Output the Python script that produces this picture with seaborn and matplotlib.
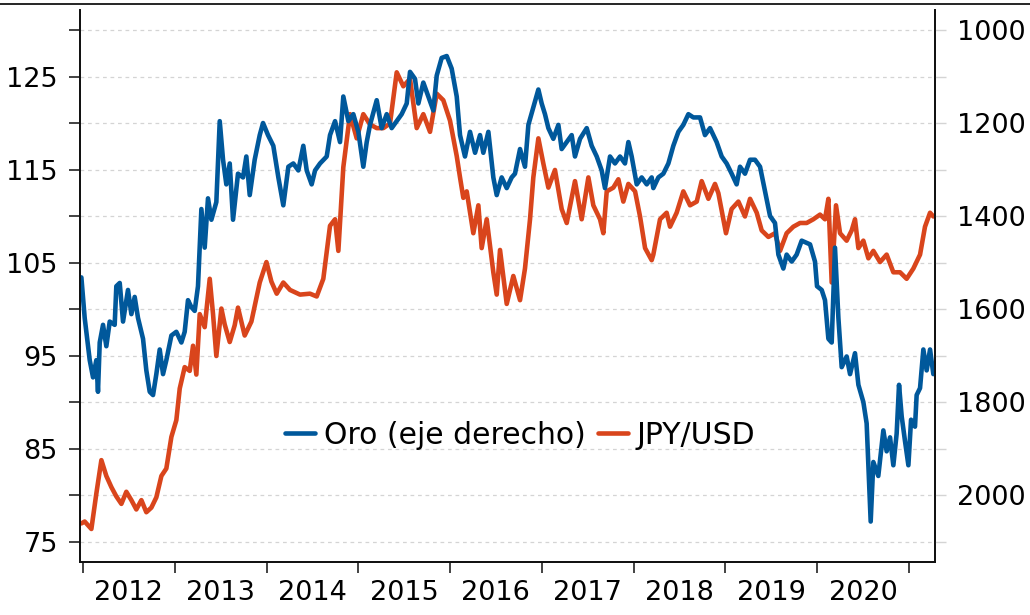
import numpy as np
import pandas as pd
import matplotlib
matplotlib.use("Agg")
import matplotlib.pyplot as plt
from matplotlib.lines import Line2D
import seaborn as sns

# JPY/USD (left axis), time as decimal year
jpy_t = [2011.982, 2012.018, 2012.091, 2012.145, 2012.200, 2012.254, 2012.309, 2012.363, 2012.418, 2012.472,
         2012.527, 2012.581, 2012.636, 2012.690, 2012.745, 2012.799, 2012.854, 2012.908, 2012.963,
         2013.017, 2013.054, 2013.108, 2013.163, 2013.199, 2013.235, 2013.272, 2013.326, 2013.381, 2013.417,
         2013.453, 2013.508, 2013.544, 2013.599, 2013.653, 2013.689, 2013.762, 2013.835, 2013.926, 2013.999,
         2014.053, 2014.111, 2014.183, 2014.256, 2014.365, 2014.474, 2014.547, 2014.619, 2014.692, 2014.747,
         2014.783, 2014.837, 2014.910, 2014.983,
         2015.055, 2015.128, 2015.201, 2015.273, 2015.346, 2015.419, 2015.491, 2015.564, 2015.637, 2015.709,
         2015.782, 2015.855, 2015.927,
         2016.000, 2016.073, 2016.109, 2016.145, 2016.182, 2016.254, 2016.309, 2016.345, 2016.400, 2016.472,
         2016.509, 2016.545, 2016.618, 2016.690, 2016.763, 2016.817, 2016.872, 2016.908, 2016.963,
         2017.017, 2017.072, 2017.144, 2017.217, 2017.272, 2017.362, 2017.435, 2017.508, 2017.562, 2017.635,
         2017.671, 2017.708, 2017.780, 2017.835, 2017.889, 2017.944,
         2018.017, 2018.071, 2018.126, 2018.198, 2018.216, 2018.289, 2018.361, 2018.398, 2018.470, 2018.543,
         2018.616, 2018.689, 2018.743, 2018.816, 2018.888, 2018.925,
         2019.008, 2019.069, 2019.143, 2019.215, 2019.270, 2019.343, 2019.397, 2019.470, 2019.542, 2019.597,
         2019.669, 2019.742, 2019.815, 2019.887, 2019.960,
         2020.033, 2020.087, 2020.124, 2020.160, 2020.207, 2020.251, 2020.323, 2020.378, 2020.414, 2020.451,
         2020.505, 2020.560, 2020.614, 2020.687, 2020.759, 2020.832, 2020.905, 2020.977,
         2021.050, 2021.123, 2021.177, 2021.232, 2021.268]
jpy = [77.0, 77.2, 76.4, 80.2, 83.8, 82.1, 80.9, 79.9, 79.1, 80.4,
       79.5, 78.5, 79.5, 78.2, 78.7, 79.8, 82.1, 82.9, 86.3,
       88.1, 91.5, 93.8, 93.4, 96.1, 93.0, 99.5, 98.1, 103.3, 99.5,
       95.0, 100.1, 98.4, 96.5, 98.3, 100.2, 97.2, 98.7, 102.9, 105.1,
       103.0, 101.7, 102.9, 102.1, 101.6, 101.7, 101.4, 103.3, 109.0, 109.7,
       106.3, 115.3, 121.0, 118.4,
       121.0, 119.9, 119.5, 119.5, 120.0, 125.5, 124.0, 124.8, 119.5, 121.0,
       119.1, 123.2, 122.5,
       120.3, 116.5, 114.2, 112.0, 112.7, 108.2, 111.2, 106.6, 109.7, 104.0,
       101.6, 106.4, 100.6, 103.6, 101.0, 104.4, 109.7, 114.2, 118.4,
       115.7, 113.1, 115.0, 110.8, 109.3, 113.8, 109.7, 114.2, 111.2, 109.7,
       108.2, 112.7, 113.1, 114.0, 111.6, 113.5,
       112.7, 110.0, 106.6, 105.3, 105.9, 109.7, 110.4, 108.9, 110.4, 112.7,
       111.2, 111.6, 113.8, 111.9, 113.5, 112.5,
       108.2, 110.8, 111.6, 110.0, 111.9, 110.4, 108.5, 107.8, 108.2, 106.3,
       108.2, 108.9, 109.3, 109.3, 109.7,
       110.2, 109.7, 111.9, 102.9, 111.2, 108.2, 107.4, 108.5, 109.7, 106.6,
       107.4, 105.5, 106.3, 105.1, 105.9, 104.0, 104.0, 103.3,
       104.4, 105.9, 108.9, 110.4, 110.0]

# Gold, USD/oz (right axis, inverted)
oro_t = [2011.982, 2012.018, 2012.073, 2012.109, 2012.145, 2012.163, 2012.182, 2012.218, 2012.254, 2012.291,
         2012.345, 2012.363, 2012.400, 2012.436, 2012.490, 2012.527, 2012.563, 2012.599, 2012.654, 2012.690,
         2012.727, 2012.763, 2012.799, 2012.836, 2012.872, 2012.908, 2012.963,
         2013.017, 2013.072, 2013.108, 2013.144, 2013.181, 2013.217, 2013.253, 2013.290, 2013.326, 2013.362,
         2013.399, 2013.453, 2013.490, 2013.526, 2013.562, 2013.599, 2013.635, 2013.689, 2013.744, 2013.780,
         2013.817, 2013.871, 2013.926, 2013.962,
         2014.016, 2014.074, 2014.129, 2014.183, 2014.238, 2014.292, 2014.347, 2014.401, 2014.438, 2014.492,
         2014.529, 2014.583, 2014.656, 2014.692, 2014.747, 2014.801, 2014.837, 2014.892, 2014.946,
         2015.001, 2015.055, 2015.092, 2015.128, 2015.201, 2015.255, 2015.310, 2015.364, 2015.419, 2015.473,
         2015.528, 2015.564, 2015.618, 2015.655, 2015.709, 2015.764, 2015.818, 2015.855, 2015.909, 2015.964,
         2016.018, 2016.073, 2016.109, 2016.163, 2016.218, 2016.273, 2016.327, 2016.363, 2016.418, 2016.472,
         2016.509, 2016.563, 2016.618, 2016.672, 2016.708, 2016.763, 2016.817, 2016.854, 2016.908, 2016.963,
         2016.999,
         2017.035, 2017.072, 2017.126, 2017.181, 2017.217, 2017.272, 2017.326, 2017.362, 2017.417, 2017.490,
         2017.544, 2017.599, 2017.653, 2017.689, 2017.744, 2017.798, 2017.853, 2017.907, 2017.944, 2017.980,
         2018.035, 2018.089, 2018.144, 2018.198, 2018.216, 2018.271, 2018.325, 2018.380, 2018.434, 2018.489,
         2018.543, 2018.598, 2018.652, 2018.725, 2018.779, 2018.834, 2018.906, 2018.961,
         2019.015, 2019.070, 2019.124, 2019.161, 2019.215, 2019.270, 2019.324, 2019.379, 2019.433, 2019.488,
         2019.542, 2019.579, 2019.633, 2019.669, 2019.724, 2019.778, 2019.833, 2019.924, 2019.978,
         2020.000, 2020.051, 2020.087, 2020.124, 2020.160, 2020.196, 2020.233, 2020.269, 2020.323, 2020.360,
         2020.414, 2020.451, 2020.505, 2020.541, 2020.560, 2020.585, 2020.614, 2020.668, 2020.723, 2020.759,
         2020.796, 2020.832, 2020.868, 2020.894, 2020.923, 2020.959, 2020.996,
         2021.025, 2021.068, 2021.086, 2021.123, 2021.159, 2021.195, 2021.232, 2021.268]
oro = [1531, 1618, 1709, 1746, 1709, 1777, 1671, 1633, 1679, 1626,
       1633, 1550, 1543, 1626, 1558, 1610, 1573, 1618, 1663, 1731,
       1777, 1784, 1739, 1686, 1739, 1709, 1656,
       1648, 1671, 1648, 1580, 1595, 1603, 1550, 1384, 1467, 1361,
       1407, 1369, 1195, 1278, 1331, 1286, 1407, 1308, 1316, 1271,
       1354, 1278, 1225, 1199,
       1225, 1248, 1316, 1376, 1293, 1286, 1301, 1248, 1301, 1331,
       1301, 1286, 1271, 1225, 1195, 1240, 1142, 1195, 1180,
       1218, 1293, 1240, 1203, 1150, 1210, 1180, 1210, 1195, 1180,
       1157, 1089, 1104, 1157, 1112, 1142, 1172, 1097, 1059, 1055,
       1082, 1142, 1225, 1271, 1218, 1263, 1225, 1263, 1218, 1316,
       1354, 1316, 1339, 1316, 1308, 1255, 1293, 1203, 1165, 1127,
       1157,
       1180, 1210, 1233, 1203, 1255, 1240, 1225, 1271, 1233, 1210,
       1248, 1271, 1301, 1339, 1271, 1286, 1271, 1286, 1240, 1271,
       1331, 1316, 1331, 1316, 1339, 1316, 1308, 1286, 1248, 1218,
       1203, 1180, 1187, 1187, 1225, 1210, 1240, 1271,
       1286, 1308, 1331, 1293, 1308, 1278, 1278, 1293, 1346, 1399,
       1414, 1482, 1512, 1482, 1497, 1482, 1452, 1460, 1497,
       1550, 1558, 1580, 1663, 1671, 1467, 1618, 1724, 1701, 1739,
       1694, 1762, 1799, 1845, 1935, 2056, 1928, 1958, 1860, 1905,
       1875, 1935, 1867, 1762, 1830, 1883, 1935,
       1837, 1852, 1784, 1769, 1686, 1731, 1686, 1739]

years = list(range(2012, 2022))
year_labels = [str(y) for y in range(2012, 2021)]

BLUE = '#00589B'
ORANGE = '#D9451C'
FS = 19.5

sns.set_style('white')
plt.rcParams['font.family'] = ['DejaVu Sans']
plt.rcParams['text.color'] = 'black'
plt.rcParams['xtick.color'] = 'black'
plt.rcParams['ytick.color'] = 'black'

fig = plt.figure(figsize=(10.3, 6.15), dpi=100)
ax = fig.add_axes([80 / 1030, 1 - 562 / 615, 855 / 1030, 552 / 615])
ax2 = ax.twinx()

sns.lineplot(x=jpy_t, y=jpy, ax=ax, color=ORANGE, lw=3.3, label='JPY/USD', legend=False)
sns.lineplot(x=oro_t, y=oro, ax=ax2, color=BLUE, lw=3.3, label='Oro (eje derecho)', legend=False)

ax.set_xlim(2011.967, 2021.286)
ax.set_ylim(72.85, 132.2)
ax2.set_ylim(2143, 956)

# left axis
ax.set_yticks(np.arange(75, 126, 10))
ax.set_yticks(np.arange(80, 131, 10), minor=True)
ax.tick_params(axis='y', which='both', direction='out', length=8, width=1.2, color='#222222',
               labelsize=FS, labelcolor='black', pad=8, left=True)
ax.grid(axis='y', which='both', ls=(0, (3, 3)), color='#d4d4d4', lw=0.9)
ax.grid(axis='x', visible=False)

# right axis
ax2.set_yticks(np.arange(1000, 2001, 200))
ax2.set_yticks(np.arange(1100, 2101, 200), minor=True)
ax2.tick_params(axis='y', which='both', direction='out', length=8, width=1.0, color='#d4d4d4',
                labelsize=FS, labelcolor='black', pad=8, right=True)
ax2.grid(False)

# x axis: ticks at year starts, labels in the middle of each year
ax.set_xticks(years)
ax.set_xticklabels([])
ax.set_xticks([y + 0.5 for y in range(2012, 2021)], minor=True)
ax.set_xticklabels(year_labels, minor=True)
ax.tick_params(axis='x', which='major', direction='out', length=8, width=1.2, color='#222222', bottom=True)
ax.tick_params(axis='x', which='minor', length=0, labelsize=FS, labelcolor='black', pad=13)

for a in (ax, ax2):
    a.spines['top'].set_visible(False)
    for s in ('left', 'right', 'bottom'):
        a.spines[s].set_color('#111111')
        a.spines[s].set_linewidth(1.3)

handles = [Line2D([], [], color=BLUE, lw=3.3), Line2D([], [], color=ORANGE, lw=3.3)]
ax2.legend(handles, ['Oro (eje derecho)', 'JPY/USD'], loc='center', bbox_to_anchor=(0.515, 0.23),
           ncol=2, frameon=False, fontsize=21.5, handlelength=1.0, handletextpad=0.3, columnspacing=0.4,
           labelcolor='black')

fig.add_artist(Line2D([0, 1], [1 - 4 / 615, 1 - 4 / 615], transform=fig.transFigure, color='black', lw=1.2))

fig.savefig('out.png', dpi=100)
